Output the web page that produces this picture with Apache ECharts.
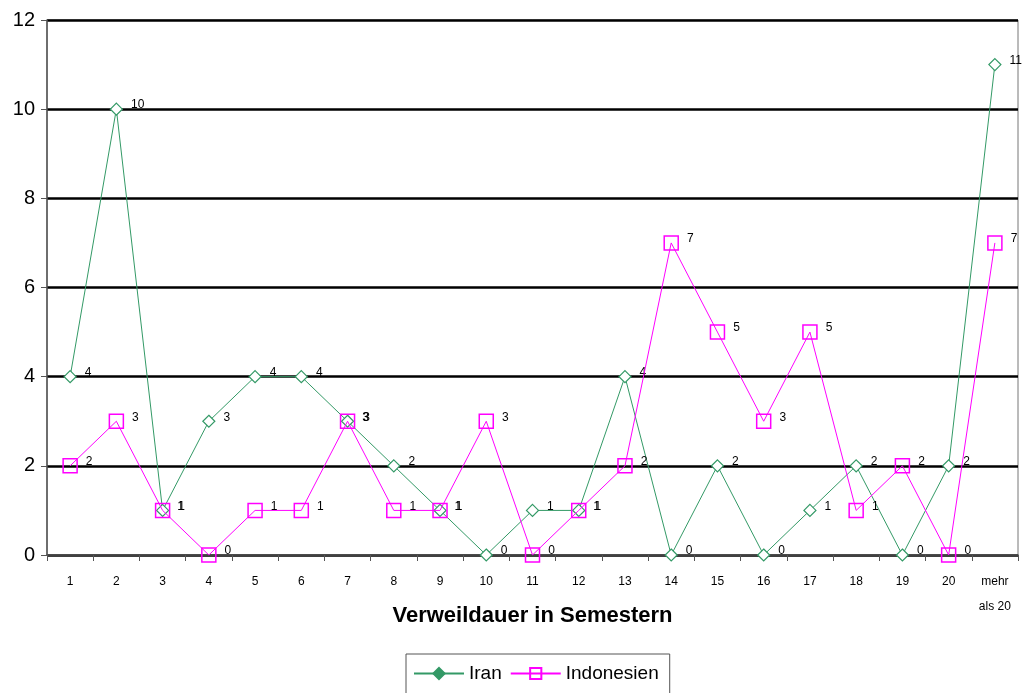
<!DOCTYPE html>
<html><head><meta charset="utf-8">
<script src="https://cdn.jsdelivr.net/npm/echarts@6/dist/echarts.min.js"></script>
<style>html,body{margin:0;padding:0;background:#fff}#c{width:1026px;height:693px}</style>
</head><body><div id="c"></div>
<script>
const categories = ['1','2','3','4','5','6','7','8','9','10','11','12','13','14','15','16','17','18','19','20','mehr\nals 20'];
const iran = [4,10,1,3,4,4,3,2,1,0,1,1,4,0,2,0,1,2,0,2,11];
const indonesien = [2,3,1,0,1,1,3,1,1,3,0,1,2,7,5,3,5,1,2,0,7];
const yTicks = [0,2,4,6,8,10,12];

const chart = echarts.init(document.getElementById('c'), null, {renderer:'canvas'});
const lbl = {show:true, position:'right', distance:8, offset:[0,-4], color:'#000', fontSize:12, fontFamily:'Liberation Sans, Arial, sans-serif'};
chart.setOption({
  animation:false,
  backgroundColor:'#fff',
  textStyle:{fontFamily:'Liberation Sans, Arial, sans-serif'},
  grid:{left:47, right:8, top:20, bottom:138, show:true, borderColor:'#777', borderWidth:1},
  legend:{
    bottom:-2, left:406, itemWidth:50, itemHeight:14, itemGap:8,
    padding:[10,11,12,7], borderColor:'#555', borderWidth:1,
    textStyle:{fontSize:19, color:'#000'},
    data:[
      {name:'Iran', itemStyle:{color:'#339966', borderColor:'#339966'}},
      {name:'Indonesien'}
    ]
  },
  xAxis:{
    type:'category', data:categories, boundaryGap:true,
    name:'Verweildauer in Semestern', nameLocation:'middle', nameGap:50, nameMoveOverlap:false,
    nameTextStyle:{fontSize:22, fontWeight:'bold', color:'#000'},
    axisLine:{lineStyle:{color:'#555', width:1.5}},
    axisTick:{show:true, alignWithLabel:false, length:6, lineStyle:{color:'#555'}},
    axisLabel:{fontSize:12, color:'#000', margin:14, lineHeight:25, interval:0}
  },
  yAxis:{
    type:'value', min:0, max:12, interval:2,
    axisLine:{show:true, lineStyle:{color:'#555', width:1.5}},
    axisTick:{show:true, length:6, lineStyle:{color:'#555'}},
    axisLabel:{fontSize:20, color:'#000', margin:12, formatter:v=>yTicks.includes(v)?String(v):''},
    splitLine:{show:true, lineStyle:{color:'#000', width:2.5}}
  },
  series:[
    {name:'Iran', type:'line', data:iran, symbol:'diamond', symbolSize:12,
     lineStyle:{color:'#339966', width:1}, itemStyle:{color:'#fff', borderColor:'#339966', borderWidth:1.2},
     label:lbl, z:3},
    {name:'Indonesien', type:'line', data:indonesien, symbol:'rect', symbolSize:14,
     lineStyle:{color:'#ff00ff', width:1}, itemStyle:{color:'rgba(255,255,255,0)', borderColor:'#ff00ff', borderWidth:1.5},
     label:lbl, z:4}
  ]
});
</script></body></html>
